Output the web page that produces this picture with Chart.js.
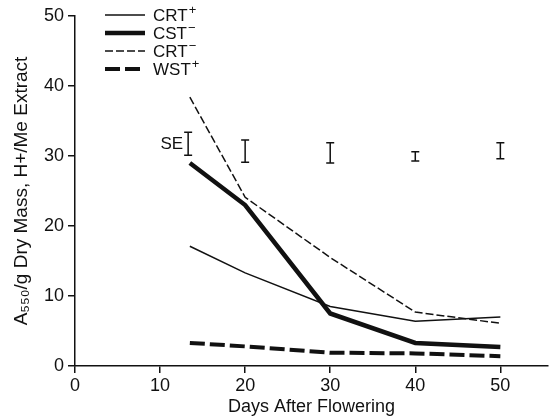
<!DOCTYPE html>
<html>
<head>
<meta charset="utf-8">
<script src="https://cdn.jsdelivr.net/npm/chart.js@4.4.1/dist/chart.umd.min.js"></script>
<style>
  html, body { margin: 0; padding: 0; background: #fff; }
  #wrap { width: 556px; height: 418px; }
</style>
</head>
<body>
<div id="wrap"><canvas id="myChart"></canvas></div>
<script>
// values
const days = [13.5, 20, 30, 40, 50]
const crtPlus = [17.1, 13.3, 8.5, 6.4, 7.0]
const cstMinus = [29.0, 23.0, 7.5, 3.3, 2.7]
const crtMinus = [38.4, 24.1, 15.5, 7.7, 6.1]
const wstPlus = [3.3, 2.8, 1.9, 1.8, 1.4]

// representative SE bars drawn above the curves
const seDays = [13.3, 20, 30, 40, 50]
const seLow = [30.1, 29.1, 29.0, 29.3, 29.6]
const seHigh = [33.4, 32.3, 31.9, 30.6, 31.9]

const seriesNames = ['CRT⁺', 'CST⁻', 'CRT⁻', 'WST⁺']
const xTitle = 'Days After Flowering'
const yTitle = 'A₅₅₀/g Dry Mass, H+/Me Extract'

const ink = '#111'
const font = 'Liberation Sans, Arial, sans-serif'

const toPoints = (vals) => days.map((d, i) => ({ x: d, y: vals[i] }))

// legend sits inside the plot, top left, like the printed figure
const insetLegend = {
    id: 'insetLegend',
    afterDatasetsDraw(chart) {
        const ctx = chart.ctx
        chart.data.datasets.forEach((ds, i) => {
            const y = 15 + i * 18
            ctx.save()
            ctx.strokeStyle = ds.borderColor
            ctx.lineWidth = ds.borderWidth
            ctx.setLineDash(ds.borderDash || [])
            ctx.beginPath()
            ctx.moveTo(105, y)
            ctx.lineTo(145, y)
            ctx.stroke()
            ctx.setLineDash([])
            ctx.fillStyle = ink
            ctx.textBaseline = 'middle'
            let base = ds.label
            let sup = ''
            const last = base.slice(-1)
            if (last === '⁺' || last === '⁻') {
                base = base.slice(0, -1)
                sup = last === '⁺' ? '+' : '−'
            }
            ctx.font = '17px ' + font
            ctx.fillText(base, 153, y + 1)
            const w = ctx.measureText(base).width
            ctx.font = '13px ' + font
            ctx.fillText(sup, 153 + w + 1, y - 5)
            ctx.restore()
        })
    },
}

const seBars = {
    id: 'seBars',
    afterDatasetsDraw(chart) {
        const ctx = chart.ctx
        const xs = chart.scales.x
        const ys = chart.scales.y
        ctx.save()
        ctx.strokeStyle = ink
        ctx.lineWidth = 1.5
        seDays.forEach((d, i) => {
            const x = xs.getPixelForValue(d)
            const top = ys.getPixelForValue(seHigh[i])
            const bot = ys.getPixelForValue(seLow[i])
            ctx.beginPath()
            ctx.moveTo(x, top)
            ctx.lineTo(x, bot)
            ctx.moveTo(x - 4, top)
            ctx.lineTo(x + 4, top)
            ctx.moveTo(x - 4, bot)
            ctx.lineTo(x + 4, bot)
            ctx.stroke()
        })
        const x0 = xs.getPixelForValue(seDays[0])
        const ym = ys.getPixelForValue((seHigh[0] + seLow[0]) / 2)
        ctx.fillStyle = ink
        ctx.font = '17px ' + font
        ctx.textAlign = 'right'
        ctx.textBaseline = 'middle'
        ctx.fillText('SE', x0 - 5, ym + 1)
        ctx.restore()
    },
}

const ctx = document.getElementById('myChart')
const chart = new Chart(ctx, {
    type: 'line',
    data: {
        datasets: [
            { label: seriesNames[0], data: toPoints(crtPlus), borderColor: ink, borderWidth: 1.5 },
            { label: seriesNames[1], data: toPoints(cstMinus), borderColor: ink, borderWidth: 4.5 },
            { label: seriesNames[2], data: toPoints(crtMinus), borderColor: ink, borderWidth: 1.5, borderDash: [8, 3] },
            { label: seriesNames[3], data: toPoints(wstPlus), borderColor: ink, borderWidth: 4, borderDash: [15, 5] },
        ],
    },
    options: {
        responsive: true,
        maintainAspectRatio: false,
        animation: false,
        layout: { padding: { top: 16, right: 8, left: 0, bottom: 0 } },
        elements: {
            point: { radius: 0 },
            line: { tension: 0, fill: false },
        },
        plugins: {
            legend: { display: false },
            tooltip: { enabled: false },
        },
        scales: {
            x: {
                type: 'linear',
                min: 0,
                max: 55.6,
                afterFit: (s) => { s.height = 52 },
                border: { color: ink, width: 1.5 },
                grid: { drawOnChartArea: false, color: ink, tickLength: 7, lineWidth: 1.5 },
                ticks: { stepSize: 10, includeBounds: false, color: ink, padding: 2, font: { family: font, size: 18 } },
                title: { display: true, text: xTitle, color: ink, padding: { top: 0, bottom: 0 }, font: { family: font, size: 18 } },
            },
            y: {
                min: 0,
                max: 50,
                afterFit: (s) => { s.width = 75 },
                border: { color: ink, width: 1.5 },
                grid: { drawOnChartArea: false, color: ink, tickLength: 7, lineWidth: 1.5 },
                ticks: { stepSize: 10, color: ink, padding: 4, font: { family: font, size: 18 } },
                title: { display: true, text: yTitle, color: ink, padding: { top: 10, bottom: 0 }, font: { family: font, size: 19 } },
            },
        },
    },
    plugins: [insetLegend, seBars],
})
</script>
</body>
</html>
